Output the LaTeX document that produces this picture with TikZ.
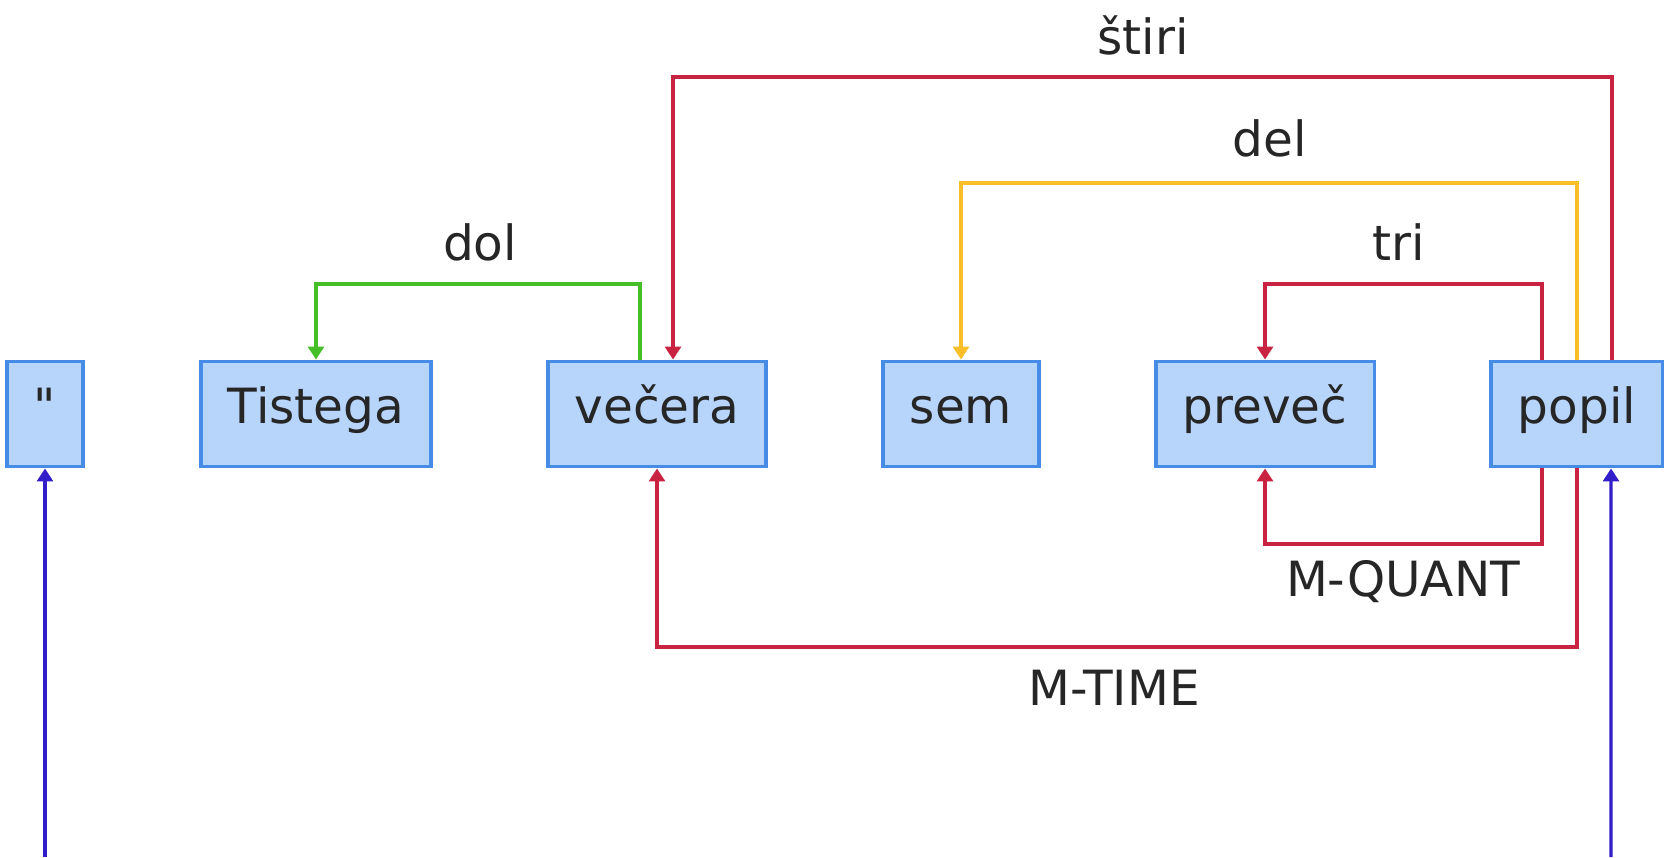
\documentclass[tikz,border=0pt]{standalone}
\usepackage{fontspec}
\setmainfont{DejaVu Sans}
\newfontfamily\rawfont[Ligatures=ResetAll]{DejaVu Sans}
\usetikzlibrary{calc,arrows.meta}
\definecolor{boxfill}{RGB}{183,212,250}
\definecolor{boxline}{RGB}{70,140,230}
\definecolor{relred}{RGB}{200,35,65}
\definecolor{relgreen}{RGB}{70,190,40}
\definecolor{relyellow}{RGB}{250,190,40}
\definecolor{relblue}{RGB}{50,30,200}
\tikzset{
word/.style={draw=boxline, fill=boxfill, line width=1.1pt, minimum height=1.05cm, minimum width=0.76cm, inner xsep=0.27cm, text height=0.75em, text depth=0.2em, font=\fontsize{13.8}{16}\selectfont, text=black!85},
rel/.style={line width=0.9pt, -{Triangle[width=0.16cm,length=0.13cm]}},
lab/.style={font=\fontsize{13.8}{16}\selectfont, text=black!85}
}

\begin{document}
\begin{tikzpicture}[x=0.01cm, y=-0.01cm]
\useasboundingbox (0,0) rectangle (1664,857);
\node[word] (q) at (45,414) {\rawfont\symbol{34}};
\node[word] (tistega) at (316,414) {Tistega};
\node[word] (vecera) at (657,414) {večera};
\node[word] (sem) at (961,414) {sem};
\node[word] (prevec) at (1265,414) {preveč};
\node[word] (popil) at (1577,414) {popil};
\coordinate (ldol) at (0,284);
\coordinate (ltri) at (0,284);
\coordinate (ldel) at (0,183);
\coordinate (lstiri) at (0,77);
\coordinate (lquant) at (0,544);
\coordinate (ltime) at (0,647);
\coordinate (rootq) at (45,857);
\coordinate (rootp) at (1611,857);
\coordinate (vecin) at ([xshift=0.16cm]vecera.north);
\coordinate (vecout) at ([xshift=-0.17cm]vecera.north);
\draw[rel, relgreen] (vecout) |- (ldol -| tistega.north) -- (tistega.north);
\draw[rel, relred] ([xshift=0.35cm]popil.north) |- (lstiri -| vecin) -- (vecin);
\draw[rel, relyellow] (popil.north) |- (ldel -| sem.north) -- (sem.north);
\draw[rel, relred] ([xshift=-0.35cm]popil.north) |- (ltri -| prevec.north) -- (prevec.north);
\draw[rel, relred] ([xshift=-0.35cm]popil.south) |- (lquant -| prevec.south) -- (prevec.south);
\draw[rel, relred] (popil.south) |- (ltime -| vecera.south) -- (vecera.south);
\draw[rel, relblue] (rootq) -- (q.south);
\draw[rel, relblue] (rootp) -- ([xshift=0.34cm]popil.south);
\node[lab] (tdol) at (480,242) {dol};
\node[lab] (tstiri) at (1143,35) {štiri};
\node[lab] (tdel) at (1270,138) {del};
\node[lab] (ttri) at (1399,242) {tri};
\node[lab] (tquant) at (1403,582) {M-QUANT};
\node[lab] (ttime) at (1114,688) {M-TIME};
\end{tikzpicture}
\end{document}
